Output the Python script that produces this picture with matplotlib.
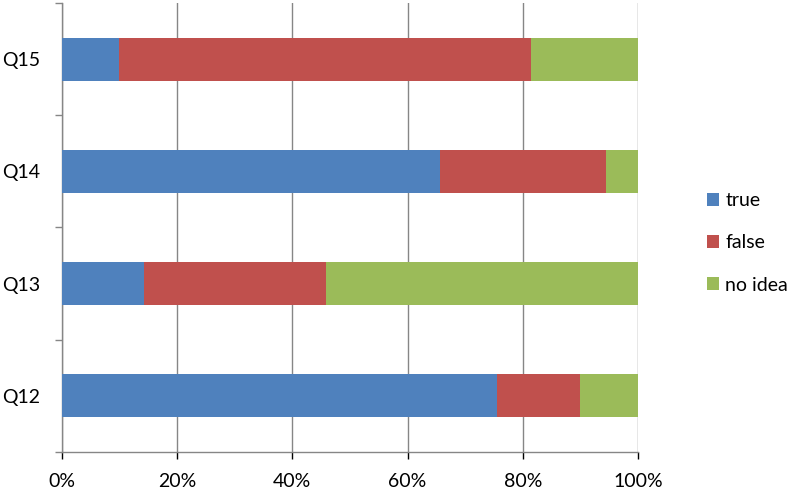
import matplotlib
matplotlib.use("Agg")
import matplotlib.pyplot as plt
from matplotlib.ticker import PercentFormatter
import numpy as np

categories = ["Q12", "Q13", "Q14", "Q15"]
true_vals = [75.6, 14.2, 65.6, 9.9]
false_vals = [14.3, 31.6, 28.8, 71.5]
noidea_vals = [10.1, 54.2, 5.6, 18.6]
series_names = ["true", "false", "no idea"]
colors = ["#4F81BD", "#C0504D", "#9BBB59"]

plt.rcParams['font.family'] = ['Lato', 'DejaVu Sans']

fig = plt.figure(figsize=(7.88, 4.9), dpi=100)
ax = fig.add_axes([62/788, 1-452/490, (638-62)/788, (452-3)/490])

y = np.arange(len(categories))
left = np.zeros(len(categories))
handles = []
for vals, name, c in zip([true_vals, false_vals, noidea_vals], series_names, colors):
    v = np.array(vals, dtype=float)
    h = ax.barh(y, v, left=left, height=0.385, color=c, label=name, zorder=3)
    handles.append(h)
    left += v

ax.set_xlim(0, 100)
ax.set_ylim(-0.5, len(categories) - 0.5)
ax.set_xticks(np.arange(0, 101, 20))
ax.xaxis.set_major_formatter(PercentFormatter(100, decimals=0))
ax.set_yticks(y)
ax.set_yticklabels(categories)
ax.set_yticks(np.arange(-0.5, len(categories), 1), minor=True)
ax.tick_params(axis='y', which='major', length=0, pad=16)
ax.tick_params(axis='y', which='minor', length=5, color='#868686', width=1)
ax.tick_params(axis='x', length=5, color='#868686', width=1, pad=10)
ax.tick_params(labelsize=14, colors='#000000')
ax.grid(axis='x', color='#868686', linewidth=1, zorder=0)
for s in ['top', 'right']:
    ax.spines[s].set_visible(False)
for s in ['left', 'bottom']:
    ax.spines[s].set_color('#868686')
    ax.spines[s].set_linewidth(1)

fig.legend(handles, series_names, loc='center left', bbox_to_anchor=(699/788, 1-243/490),
           frameon=False, fontsize=14, handlelength=0.65, handleheight=0.65,
           handletextpad=0.3, labelspacing=1.3, borderaxespad=0)

fig.savefig("out.png", dpi=100)
